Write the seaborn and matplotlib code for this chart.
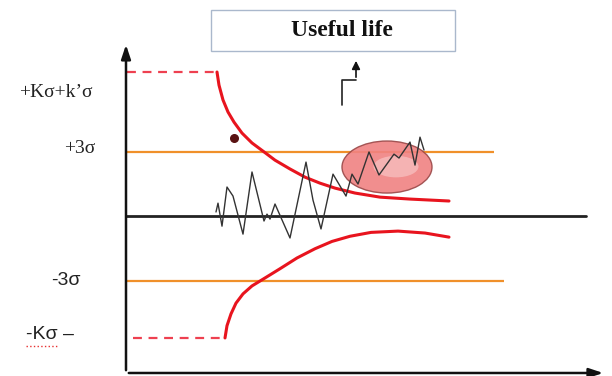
import matplotlib
matplotlib.use("Agg")
import matplotlib.pyplot as plt
from matplotlib.patches import Ellipse, Rectangle
import pandas as pd
import seaborn as sns

# chart units: x = time, y = sigma units (0 = centre line)
upper_limit = 6.7
lower_limit = -5.67
sigma3 = 3.0
dash_end_up = 9.1
dash_end_lo = 9.9

# upper threshold curve
up_x = [9.1, 9.3, 9.7, 10.2, 10.8, 11.6, 12.6, 13.7, 14.9, 16.4, 17.9, 19.4, 20.9, 22.9, 25.4, 28.4, 32.3]
up_y = [6.70, 6.09, 5.40, 4.84, 4.37, 3.86, 3.40, 3.02, 2.60, 2.19, 1.81, 1.53, 1.30, 1.07, 0.88, 0.79, 0.70]

# lower threshold curve
lo_x = [9.9, 10.1, 10.5, 11.0, 11.7, 12.6, 13.9, 15.4, 17.1, 18.9, 20.6, 22.4, 24.5, 27.2, 29.9, 32.3]
lo_y = [-5.67, -5.10, -4.55, -4.05, -3.62, -3.25, -2.88, -2.45, -1.95, -1.52, -1.18, -0.94, -0.76, -0.70, -0.79, -0.98]

# measured signal
sig_x = [9.0, 9.2, 9.6, 10.1, 10.7, 11.7, 12.6, 13.8, 14.1, 14.4, 14.9, 16.4, 18.0, 18.7, 19.5,
         20.7, 22.0, 22.6, 23.2, 24.3, 25.3, 26.8, 27.3, 28.4, 28.9, 29.4, 29.8]
sig_y = [0.19, 0.60, -0.47, 1.35, 0.93, -0.84, 2.05, -0.23, 0.09, -0.14, 0.56, -1.02, 2.51, 0.74, -0.60,
         1.95, 0.93, 1.95, 1.49, 2.98, 1.91, 2.88, 2.70, 3.44, 2.37, 3.67, 3.07]

# step arrow towards the "useful life" box
step_x = [21.6, 21.6, 23.0, 23.0]
step_y = [5.16, 6.33, 6.33, 7.35]

y_labels = ["+K\u03c3+k\u2019\u03c3", "+3\u03c3", "-3\u03c3", "-K\u03c3 \u2013"]
y_label_pos = [5.77, 3.16, -2.98, -5.49]
y_label_x = [-7.0, -4.6, -6.05, -7.6]
y_label_fonts = ["Liberation Serif", "Liberation Serif", "Liberation Sans", "Liberation Sans"]
y_label_sizes = [14, 14, 14, 14]

sns.set_theme(style="white")

fig = plt.figure(figsize=(6.12, 3.76), dpi=100)
ax = fig.add_axes([0, 0, 1, 1])
ax.set_xlim(-12.6, 48.6)
ax.set_ylim(-7.44, 10.05)
ax.axis("off")

red = "#e8141e"
orange = "#f0902a"

# axes with arrows
ax.annotate("", xy=(0, 8.1), xytext=(0, -7.3),
            arrowprops=dict(arrowstyle="-|>,head_length=0.6,head_width=0.2", color="#111111", lw=1.8,
                            mutation_scale=14))
ax.annotate("", xy=(48.0, -7.3), xytext=(0, -7.3),
            arrowprops=dict(arrowstyle="-|>,head_length=0.6,head_width=0.2", color="#111111", lw=1.8,
                            mutation_scale=14))
ax.plot([0, 46.0], [0, 0], color="#222222", lw=2, zorder=2)

# 3 sigma lines
ax.hlines(sigma3, 0.1, 36.8, color=orange, lw=1.6, zorder=2)
ax.hlines(-sigma3, 0.1, 37.8, color=orange, lw=1.6, zorder=2)

# dashed initial limits
ax.plot([0.1, dash_end_up], [upper_limit, upper_limit], color="#ee4050", lw=1.6, ls=(0, (4, 3)))
ax.plot([0.7, dash_end_lo], [lower_limit, lower_limit], color="#ee4050", lw=1.6, ls=(0, (4, 3)))

df_up = pd.DataFrame({"x": up_x, "y": up_y})
df_lo = pd.DataFrame({"x": lo_x, "y": lo_y})
df_sig = pd.DataFrame({"x": sig_x, "y": sig_y})

sns.lineplot(data=df_up, x="x", y="y", ax=ax, color=red, lw=2.2, sort=False, estimator=None, zorder=3)
sns.lineplot(data=df_lo, x="x", y="y", ax=ax, color=red, lw=2.2, sort=False, estimator=None, zorder=3)

# highlighted region
ax.add_patch(Ellipse((26.1, 2.28), 9.0, 2.42, facecolor="#f08282", edgecolor="#9a4848",
                     lw=1, alpha=0.9, zorder=4))
ax.add_patch(Ellipse((27.0, 2.3), 4.5, 1.0, facecolor="#f8c4c4", edgecolor="none",
                     alpha=0.7, zorder=4))

sns.lineplot(data=df_sig, x="x", y="y", ax=ax, color="#333333", lw=1.0, sort=False,
             estimator=None, zorder=5)

ax.scatter([10.8], [3.63], s=30, color="#5a1212", zorder=5)

# step arrow
ax.plot(step_x[:3], step_y[:3], color="#222222", lw=1.2)
ax.annotate("", xy=(step_x[3], step_y[3]), xytext=(step_x[2], step_y[2]),
            arrowprops=dict(arrowstyle="-|>", color="#111111", lw=1.2, mutation_scale=12))

# title box
ax.add_patch(Rectangle((8.5, 7.67), 24.4, 1.91, facecolor="white", edgecolor="#aab8cc", lw=1))
ax.text(21.6, 8.62, "Useful life", ha="center", va="center", fontsize=17,
        fontweight="bold", family="Liberation Serif", color="#111111")

for lab, yy, xx, fam, fs in zip(y_labels, y_label_pos, y_label_x, y_label_fonts, y_label_sizes):
    ax.text(xx, yy, lab, ha="center", va="center", fontsize=fs, family=fam, color="#222222")

# spell-check underline
ax.plot([-10.0, -6.9], [-6.05, -6.05], color="#e83030", lw=1, ls=":")

ax.set_xlabel("")
ax.set_ylabel("")
fig.savefig("out.png", dpi=100)
